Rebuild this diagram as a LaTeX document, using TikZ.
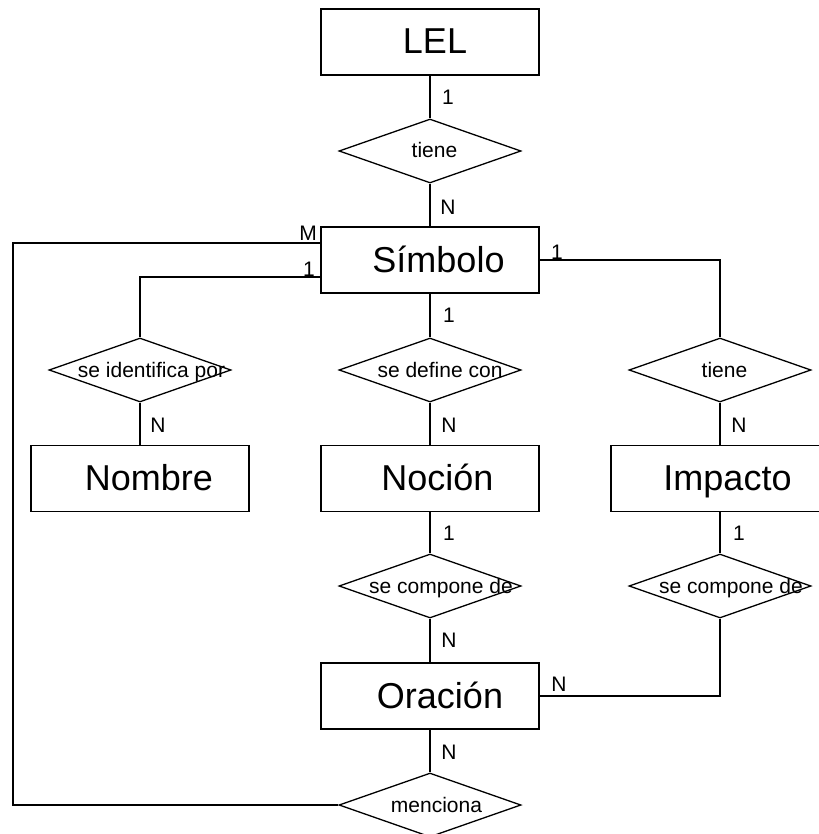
\documentclass[tikz,border=0pt]{standalone}
\usepackage{fontspec}
\setmainfont{Liberation Sans}
\usetikzlibrary{shapes.geometric}

\tikzset{
  entity/.style={draw, rectangle, line width=1.3pt, minimum width=218pt,
    minimum height=66pt, inner sep=0pt, text height=29pt, text depth=5pt,
    font=\fontsize{36}{40}\selectfont},
  relation/.style={draw, diamond, line width=1.3pt, minimum width=182pt,
    minimum height=64pt, inner sep=0pt},
  reltext/.style={font=\fontsize{21}{24}\selectfont, inner sep=0pt,
    text height=16pt, text depth=2pt},
  card/.style={font=\fontsize{21}{24}\selectfont, inner sep=0pt},
  link/.style={line width=1.3pt}
}

\begin{document}
\begin{tikzpicture}[x=1pt, y=-1pt]
  \useasboundingbox (0,0) rectangle (818,834);

  % entities
  \node[entity] (lel) at (430,42)    {\hspace*{10pt}LEL};
  \node[entity] (sim) at (430,260)   {\hspace*{17pt}Símbolo};
  \node[entity] (nom) at (140,478.5) {\hspace*{18pt}Nombre};
  \node[entity] (noc) at (430,478.5) {\hspace*{15pt}Noción};
  \node[entity] (imp) at (720,478.5) {\hspace*{15pt}Impacto};
  \node[entity] (ora) at (430,696)   {\hspace*{20pt}Oración};

  % relationships
  \node[relation, label={[reltext, xshift=4.5pt]center:tiene}] (d0) at (430,151) {};
  \node[relation, label={[reltext, xshift=11.5pt]center:se identifica por}] (d1) at (140,370) {};
  \node[relation, label={[reltext, xshift=10pt]center:se define con}] (d2) at (430,370) {};
  \node[relation, label={[reltext, xshift=4.5pt]center:tiene}] (d3) at (720,370) {};
  \node[relation, label={[reltext, xshift=11pt]center:se compone de}] (d4) at (430,586) {};
  \node[relation, label={[reltext, xshift=11pt]center:se compone de}] (d5) at (720,586) {};
  \node[relation, label={[reltext, xshift=6.5pt]center:menciona}] (men) at (430,805) {};

  % corners of the long loop on the left
  \coordinate (loopTop) at (13,243);
  \coordinate (loopBot) at (13,805);

  % connectors
  \draw[link] (lel) -- (d0);
  \draw[link] (d0) -- (sim);
  \draw[link] (sim) -- (d2);
  \draw[link] ([yshift=-17pt]sim.west) -| (d1.north);
  \draw[link] (sim.east) -| (d3.north);
  \draw[link] ([yshift=17pt]sim.west) -- (loopTop) -- (loopBot) -- (men.west);
  \draw[link] (d1) -- (nom);
  \draw[link] (d2) -- (noc);
  \draw[link] (d3) -- (imp);
  \draw[link] (noc) -- (d4);
  \draw[link] (imp) -- (d5);
  \draw[link] (d4) -- (ora);
  \draw[link] (d5.south) |- (ora.east);
  \draw[link] (ora) -- (men);

  % cardinalities
  \node[card] (c1) at (448,97)  {1};
  \node[card] (c2) at (448,207) {N};
  \node[card] (c3) at (308,233) {M};
  \node[card] (c4) at (309,269) {1};
  \node[card] (c5) at (557,252) {1};
  \node[card] (c6) at (449,315) {1};
  \node[card] (c7) at (158,425) {N};
  \node[card] (c8) at (449,425) {N};
  \node[card] (c9) at (739,425) {N};
  \node[card] (c10) at (449,533) {1};
  \node[card] (c11) at (739,533) {1};
  \node[card] (c12) at (449,640) {N};
  \node[card] (c13) at (559,684) {N};
  \node[card] (c14) at (449,752) {N};
\end{tikzpicture}
\end{document}
